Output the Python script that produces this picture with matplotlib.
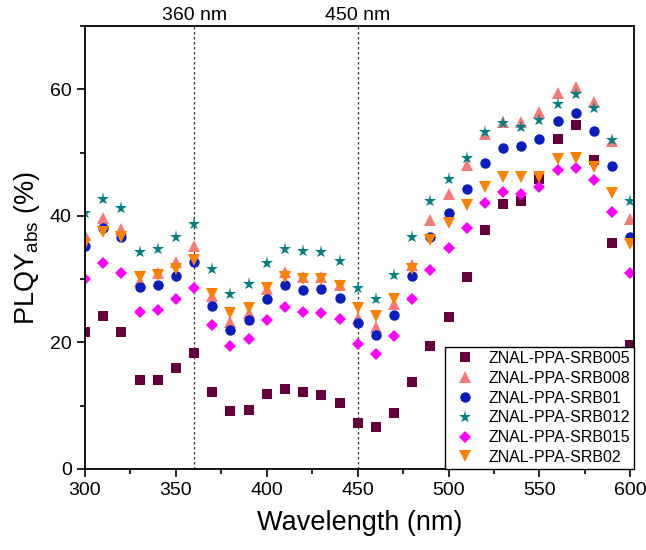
import matplotlib.pyplot as plt
import numpy as np
from matplotlib.ticker import MultipleLocator

plt.rcParams["font.family"] = "Liberation Sans"
plt.rcParams["mathtext.fontset"] = "custom"
plt.rcParams["mathtext.rm"] = "Liberation Sans"
plt.rcParams["mathtext.it"] = "Liberation Sans:italic"

wavelength = list(range(300, 601, 10))

srb005 = [21.6, 24.1, 21.6, 14.0, 14.0, 15.9, 18.4, 12.1, 9.1, 9.4, 11.8, 12.7, 12.1, 11.7, 10.4, 7.3,
          6.7, 8.9, 13.8, 19.5, 24.0, 30.3, 37.7, 41.9, 42.4, 45.9, 52.1, 54.4, 48.9, 35.7, 19.6]
srb008 = [36.9, 39.6, 37.9, 29.7, 31.0, 32.7, 35.2, 27.3, 23.2, 24.7, 28.5, 31.1, 30.4, 30.4, 29.1, 23.9,
          22.4, 26.1, 32.3, 39.4, 43.4, 48.0, 52.9, 54.9, 54.9, 56.4, 59.4, 60.3, 58.0, 51.9, 39.5]
srb01 = [35.2, 38.1, 36.7, 28.7, 29.0, 30.5, 32.7, 25.7, 21.9, 23.5, 26.8, 29.0, 28.3, 28.4, 27.0, 23.0,
         21.2, 24.4, 30.5, 36.7, 40.4, 44.2, 48.3, 50.7, 51.0, 52.1, 55.0, 56.3, 53.4, 47.8, 36.7]
srb012 = [40.5, 42.7, 41.2, 34.3, 34.8, 36.6, 38.7, 31.6, 27.7, 29.3, 32.6, 34.8, 34.5, 34.3, 32.9, 28.6,
          26.9, 30.7, 36.6, 42.3, 45.8, 49.2, 53.2, 54.7, 54.1, 55.2, 57.6, 59.2, 57.1, 52.0, 42.4]
srb015 = [30.1, 32.5, 30.9, 24.8, 25.2, 26.8, 28.6, 22.7, 19.4, 20.6, 23.5, 25.6, 24.8, 24.7, 23.7, 19.7,
          18.2, 21.0, 26.8, 31.4, 34.9, 38.1, 42.0, 43.7, 43.5, 44.5, 47.2, 47.5, 45.6, 40.6, 30.9]
srb02 = [35.5, 37.5, 36.6, 30.4, 30.7, 31.6, 33.0, 27.7, 24.7, 25.5, 28.6, 30.4, 30.1, 30.1, 28.9, 25.5,
         24.1, 26.8, 31.6, 36.2, 38.8, 41.7, 44.6, 46.2, 46.1, 46.1, 49.0, 49.2, 47.7, 43.6, 35.5]

series = [
    ("ZNAL-PPA-SRB005", srb005, "s", "#66003A", 6.5),
    ("ZNAL-PPA-SRB008", srb008, "^", "#F87A78", 8),
    ("ZNAL-PPA-SRB01", srb01, "o", "#0A1EC0", 7.5),
    ("ZNAL-PPA-SRB012", srb012, "*", "#008080", 9.5),
    ("ZNAL-PPA-SRB015", srb015, "D", "#FF00FF", 6.5),
    ("ZNAL-PPA-SRB02", srb02, "v", "#FF8000", 8),
]

fig = plt.figure(figsize=(6.46, 5.5), dpi=100)
ax = fig.add_axes([0.1316, 0.1473, 0.8498, 0.8054])

for name, vals, mk, col, ms in series:
    ax.plot(wavelength, vals, linestyle="none", marker=mk, color=col,
            markersize=ms, markeredgewidth=0, label=name, clip_on=True)

for xv, txt in [(360, "360 nm"), (450, "450 nm")]:
    ax.axvline(xv, color="#333333", linestyle=(0, (2, 2)), linewidth=0.9, zorder=0)
    ax.text(xv, 70.3, txt, ha="center", va="bottom", fontsize=14)

ax.set_xlim(300, 602)
ax.set_ylim(0, 70)
ax.xaxis.set_major_locator(MultipleLocator(50))
ax.xaxis.set_minor_locator(MultipleLocator(25))
ax.yaxis.set_major_locator(MultipleLocator(20))
ax.yaxis.set_minor_locator(MultipleLocator(10))
ax.tick_params(which="both", direction="out", labelsize=14, width=1.2, top=False, right=False)
ax.tick_params(which="major", length=6)
ax.tick_params(which="minor", length=3.5)
for sp in ax.spines.values():
    sp.set_linewidth(1.3)

ax.set_xlabel("Wavelength (nm)", fontsize=19.5, labelpad=8)
ax.set_ylabel(r"PLQY$_{\mathrm{abs}}$ (%)", fontsize=19.5, labelpad=6)

leg = ax.legend(loc="lower right", fontsize=11.5, frameon=True, fancybox=False,
                edgecolor="black", framealpha=1, borderaxespad=0, handletextpad=0.44,
                labelspacing=0.3, handlelength=2.0, borderpad=0.25)
leg.get_frame().set_linewidth(1.0)

fig.savefig("out.png", dpi=100)
